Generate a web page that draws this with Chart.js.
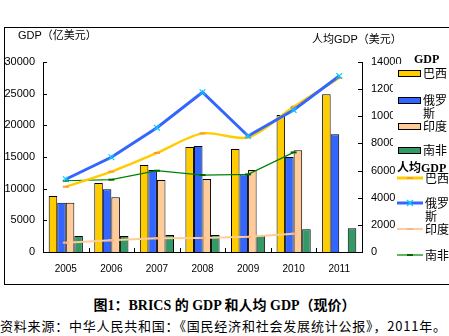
<!DOCTYPE html>
<html>
<head>
<meta charset="utf-8">
<script src="https://cdn.jsdelivr.net/npm/chart.js@4.4.0/dist/chart.umd.min.js"></script>
<style>
body{margin:0;width:449px;height:336px;overflow:hidden;background:#fff;position:relative;font-family:"Liberation Sans","Noto Sans CJK SC",sans-serif;color:#000}
#frame{position:absolute;left:4px;top:27px;width:450px;height:258px;border:1px solid #000;box-sizing:border-box}
#wrap{position:absolute;left:0;top:0;width:449px;height:284px}
.t{position:absolute;white-space:nowrap;line-height:1}
.ax{font-size:11px;font-family:"Liberation Sans","Noto Sans CJK SC",sans-serif}
#cover{position:absolute;left:393px;top:64px;width:60px;height:96px;background:#fff}
.lt{position:absolute;font-family:"Liberation Serif","Noto Sans CJK SC",serif;font-weight:bold;font-size:12px;line-height:1;white-space:nowrap}
.lab{position:absolute;font-size:12px;line-height:13px;width:26px;font-family:"Noto Sans CJK SC",sans-serif}
.box{position:absolute;width:21px;height:5px;border:1px solid #000}
#cap{position:absolute;left:0;width:449px;top:294px;text-align:center;font-size:14px;font-weight:bold;font-family:"Liberation Serif","Noto Sans CJK SC",serif;white-space:nowrap}
#src{position:absolute;left:0;top:316px;font-size:13px;letter-spacing:0.8px;white-space:nowrap;font-family:"Noto Sans CJK SC",sans-serif}
</style>
</head>
<body>
<div id="frame"></div>
<div id="wrap"><canvas id="chart" width="449" height="284"></canvas></div>
<div class="t ax" style="left:18px;top:30px">GDP（亿美元）</div>
<div class="t ax" style="left:312px;top:34px">人均GDP（美元）</div>
<div id="cover"></div>
<div id="legend"></div>
<div id="cap">图1：BRICS 的 GDP 和人均 GDP（现价）</div>
<div id="src">资料来源：中华人民共和国：《国民经济和社会发展统计公报》，2011年。</div>
<script>
// ---- data ----
const years = ['2005', '2006', '2007', '2008', '2009', '2010', '2011']
const countries = ['巴西', '俄罗斯', '印度', '南非']

// GDP (亿美元)
const gdpBrazil = [8840, 10890, 13740, 16580, 16260, 21630, 24900]
const gdpRussia = [7790, 9890, 12950, 16740, 12270, 15000, 18600]
const gdpIndia = [7790, 8630, 11370, 11530, 12950, 16050, null]
const gdpSouthAfrica = [2530, 2530, 2680, 2680, 2620, 3600, 3750]

// 人均GDP (美元)
const pcBrazil = [4810, 5920, 7300, 8740, 8450, 10700, 12820]
const pcRussia = [5360, 6980, 9160, 11770, 8550, 10460, 12970]
const pcIndia = [690, 860, 1010, 1030, 1120, 1350, null]
const pcSouthAfrica = [5250, 5330, 5990, 5670, 5720, 7340, null]

const gdpTicks = [0, 5000, 10000, 15000, 20000, 25000, 30000]
const pcTicks = [0, 2000, 4000, 6000, 8000, 10000, 12000, 14000]

// colours
const barColors = ['#FFCC00', '#3366FF', '#FFCC99', '#339966']
const lineColors = ['#FFCC00', '#3366FF', '#FFCC99', '#008000']
const markColors = ['#FF9933', '#00CCFF', '#FFB380', '#006600']

/*==================================================
  inward tick marks on the axes
==================================================*/
const innerTicks = {
  id: 'innerTicks',
  afterDraw(chart) {
    const ctx = chart.ctx
    const { left, right, bottom } = chart.chartArea
    const sx = chart.scales.x
    ctx.save()
    ctx.strokeStyle = '#000'
    ctx.lineWidth = 1
    ctx.beginPath()
    chart.scales.y.ticks.forEach(t => {
      const y = Math.round(chart.scales.y.getPixelForValue(t.value)) + 0.5
      ctx.moveTo(left, y); ctx.lineTo(left + 4, y)
    })
    chart.scales.y1.ticks.forEach(t => {
      const y = Math.round(chart.scales.y1.getPixelForValue(t.value)) + 0.5
      ctx.moveTo(right - 4, y); ctx.lineTo(right, y)
    })
    const half = (sx.getPixelForValue(1) - sx.getPixelForValue(0)) / 2
    for (let i = 0; i <= years.length; i++) {
      const x = Math.round(sx.getPixelForValue(i) - half) + 0.5
      ctx.moveTo(x, bottom); ctx.lineTo(x, bottom - 4)
    }
    ctx.stroke()
    ctx.restore()
  }
}

const barSet = (label, data, i) => ({
  type: 'bar', label, data, yAxisID: 'y', order: 10,
  backgroundColor: barColors[i], borderColor: '#000', borderWidth: 1,
  barPercentage: 1, categoryPercentage: 0.75
})

const lineSet = (label, data, i, opts) => Object.assign({
  type: 'line', label, data, yAxisID: 'y1',
  borderColor: lineColors[i], backgroundColor: lineColors[i],
  pointBorderColor: markColors[i], pointBackgroundColor: markColors[i],
  fill: false, spanGaps: false
}, opts)

const plain = v => String(v)

const ctx = document.getElementById('chart').getContext('2d')
new Chart(ctx, {
  data: {
    labels: years,
    datasets: [
      barSet('巴西', gdpBrazil, 0),
      barSet('俄罗斯', gdpRussia, 1),
      barSet('印度', gdpIndia, 2),
      barSet('南非', gdpSouthAfrica, 3),
      lineSet('巴西', pcBrazil, 0, { order: 2, borderWidth: 2.5, tension: 0.3, pointStyle: 'line', pointRadius: 3, pointBorderWidth: 2 }),
      lineSet('俄罗斯', pcRussia, 1, { order: 1, borderWidth: 3, tension: 0, pointStyle: 'crossRot', pointRadius: 4, pointBorderWidth: 1.2 }),
      lineSet('印度', pcIndia, 2, { order: 3, borderWidth: 2, tension: 0, pointStyle: 'line', pointRadius: 3, pointBorderWidth: 2 }),
      lineSet('南非', pcSouthAfrica, 3, { order: 4, borderWidth: 1.2, tension: 0, pointStyle: 'line', pointRadius: 3, pointBorderWidth: 2 })
    ]
  },
  options: {
    responsive: false,
    animation: false,
    layout: { padding: { top: 62, left: 0, right: 0, bottom: 0 } },
    plugins: { legend: { display: false }, tooltip: { enabled: false } },
    scales: {
      x: {
        offset: true,
        grid: { display: false, drawTicks: false },
        border: { display: true, color: '#000', width: 1 },
        ticks: { color: '#000', padding: 11, font: { size: 10, family: 'Liberation Sans' } },
        afterFit(s) { s.height = 32 }
      },
      y: {
        position: 'left', min: 0, max: 30000,
        afterBuildTicks(s) { s.ticks = gdpTicks.map(v => ({ value: v })) },
        grid: { display: false, drawTicks: false },
        border: { display: true, color: '#000', width: 1 },
        ticks: { color: '#000', padding: 8, font: { size: 11, family: 'Liberation Sans' }, callback: plain },
        afterFit(s) { s.width = 43 }
      },
      y1: {
        position: 'right', min: 0, max: 14000,
        afterBuildTicks(s) { s.ticks = pcTicks.map(v => ({ value: v })) },
        grid: { display: false, drawTicks: false },
        border: { display: true, color: '#000', width: 1 },
        ticks: { color: '#000', padding: 9, font: { size: 11, family: 'Liberation Sans' }, callback: plain },
        afterFit(s) { s.width = 87 }
      }
    }
  },
  plugins: [innerTicks]
})

/*==================================================
  legend (html, right side)
==================================================*/
const legend = document.getElementById('legend')
let html = '<div class="lt" style="left:414px;top:53px">GDP</div>'
const boxTop = [70, 97, 123, 147]
countries.forEach((c, i) => {
  html += `<div class="box" style="left:398px;top:${boxTop[i]}px;background:${barColors[i]}"></div>`
  html += `<div class="lab" style="left:423px;top:${boxTop[i] - 4}px">${c}</div>`
})
html += '<div class="lt" style="left:397px;top:162px">人均GDP</div>'
const lineTop = [178, 203, 229, 255]
const lw = [3, 3, 2, 1.2]
countries.forEach((c, i) => {
  const y = lineTop[i]
  let mark = `<line x1="10" y1="5" x2="16" y2="5" stroke="${markColors[i]}" stroke-width="2"/>`
  if (i === 1) mark = `<path d="M10 2 L16 8 M16 2 L10 8" stroke="${markColors[i]}" stroke-width="1.2"/>`
  html += `<svg style="position:absolute;left:397px;top:${y - 5}px" width="26" height="10">` +
    `<line x1="0" y1="5" x2="26" y2="5" stroke="${lineColors[i]}" stroke-width="${lw[i]}"/>${mark}</svg>`
  html += `<div class="lab" style="left:425px;top:${y - 7}px">${c}</div>`
})
legend.innerHTML = html
</script>
</body>
</html>
